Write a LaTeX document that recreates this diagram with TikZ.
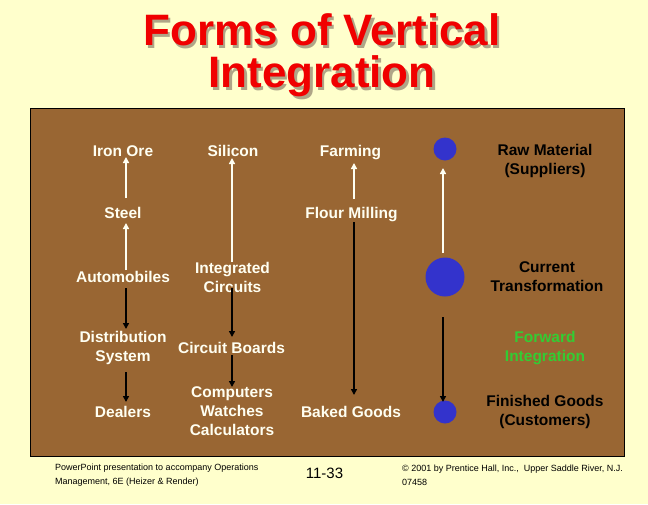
\documentclass[tikz,border=0pt]{standalone}
\usepackage{fontspec}
\setmainfont{Liberation Sans}
\usetikzlibrary{arrows.meta}
\definecolor{bgcol}{RGB}{255,255,204}
\definecolor{boxcol}{RGB}{153,102,51}
\definecolor{creamtxt}{RGB}{255,255,242}
\definecolor{dotcol}{RGB}{51,51,204}
\definecolor{fwdcol}{RGB}{51,204,51}
\definecolor{titlecol}{RGB}{240,0,0}
\definecolor{shadowcol}{RGB}{175,165,135}
\newcommand{\shadowtext}[1]{\makebox[0pt][l]{\hspace{2.5pt}\raisebox{-2.5pt}{\textcolor{shadowcol}{#1}}}\textcolor{titlecol}{#1}}
\begin{document}
\begin{tikzpicture}[x=1pt,y=-1pt,
  lbl/.style={text=creamtxt, font=\fontsize{15.5}{19}\selectfont\bfseries, inner sep=0pt, align=center},
  rlbl/.style={text=black, font=\fontsize{15.5}{19}\selectfont\bfseries, inner sep=0pt, align=center},
  glbl/.style={text=fwdcol, font=\fontsize{15.5}{19}\selectfont\bfseries, inner sep=0pt, align=center},
  dot/.style={circle, fill=dotcol, draw=none, inner sep=0pt},
  warr/.style={draw=creamtxt, line width=2pt, -{Triangle[width=6pt,length=6pt]}},
  barr/.style={draw=black, line width=2pt, -{Triangle[width=6pt,length=6pt]}},
  foot/.style={text=black, font=\fontsize{9}{14}\selectfont, inner sep=0pt, align=left, anchor=west},
  ttl/.style={font=\fontsize{44}{42}\selectfont\bfseries, inner sep=0pt, align=center}
]
\fill[bgcol] (0,0) rectangle (648,504);
\useasboundingbox (0,0) rectangle (648,504);

% title
\node[ttl] (title) at (322,56.5) {\shadowtext{Forms of Vertical}\\\shadowtext{Integration}};

% brown panel
\draw[fill=boxcol, draw=black, line width=1pt] (30,108) rectangle (624,456);

% column 1
\node[lbl] (iron) at (123,151) {Iron Ore};
\node[lbl] (steel) at (123,213) {Steel};
\node[lbl] (auto) at (123,277) {Automobiles};
\node[lbl] (dist) at (123,347.5) {Distribution\\System};
\node[lbl] (deal) at (123,412) {Dealers};

% column 2
\node[lbl] (sil) at (233,151) {Silicon};
\node[lbl] (ic) at (232.5,277) {Integrated\\Circuits};
\node[lbl] (cb) at (231.5,348) {Circuit Boards};
\node[lbl] (comp) at (232,411) {Computers\\Watches\\Calculators};

% column 3
\node[lbl] (farm) at (350.5,153) {Farming};
\node[lbl] (flour) at (351.5,215) {Flour Milling};
\node[lbl] (baked) at (351,412) {Baked Goods};

% dots
\node[dot, minimum size=23pt] (raw) at (445,149) {};
\node[dot, minimum size=39pt] (cur) at (445,277) {};
\node[dot, minimum size=23pt] (fin) at (445,412) {};

% right labels
\node[rlbl] (rawl) at (545,160.5) {Raw Material\\(Suppliers)};
\node[rlbl] (curl) at (547,276.5) {Current\\Transformation};
\node[glbl] (fwdl) at (545,348) {Forward\\Integration};
\node[rlbl] (finl) at (545,411.5) {Finished Goods\\(Customers)};

% arrows column 1
\draw[warr] ([shift={(3,-15)}]steel.center) -- ([shift={(3,6)}]iron.center);
\draw[warr] ([shift={(3,-7)}]auto.center) -- ([shift={(3,10)}]steel.center);
\draw[barr] ([shift={(3,11)}]auto.center) -- ([shift={(3,-18.5)}]dist.center);
\draw[barr] ([shift={(3,24.5)}]dist.center) -- ([shift={(3,-10)}]deal.center);

% arrows column 2
\draw[warr] ([shift={(-0.5,-15)}]ic.center) -- ([shift={(-1,7)}]sil.center);
\draw[barr] ([shift={(-0.5,11)}]ic.center) -- ([shift={(0.5,-11)}]cb.center);
\draw[barr] ([shift={(0.5,7)}]cb.center) -- ([shift={(0,-24)}]comp.center);

% arrows column 3
\draw[warr] ([shift={(2.5,-16)}]flour.center) -- ([shift={(3.5,10)}]farm.center);
\draw[barr] ([shift={(2.5,7)}]flour.center) -- ([shift={(3,-17)}]baked.center);

% arrows dots
\draw[warr] ([shift={(-2,-24)}]cur.center) -- ([shift={(-2,19)}]raw.center);
\draw[barr] ([shift={(-2,40)}]cur.center) -- ([shift={(-2,-10)}]fin.center);

% footer
\node[foot] (footl) at (55,475) {PowerPoint presentation to accompany Operations\\Management, 6E (Heizer \& Render)};
\node[text=black, font=\fontsize{15}{18}\selectfont, inner sep=0pt] (page) at (324.5,473) {11-33};
\node[foot] (footr) at (402,475) {© 2001 by Prentice Hall, Inc.,\ \ Upper Saddle River, N.J.\\07458};
\end{tikzpicture}
\end{document}
